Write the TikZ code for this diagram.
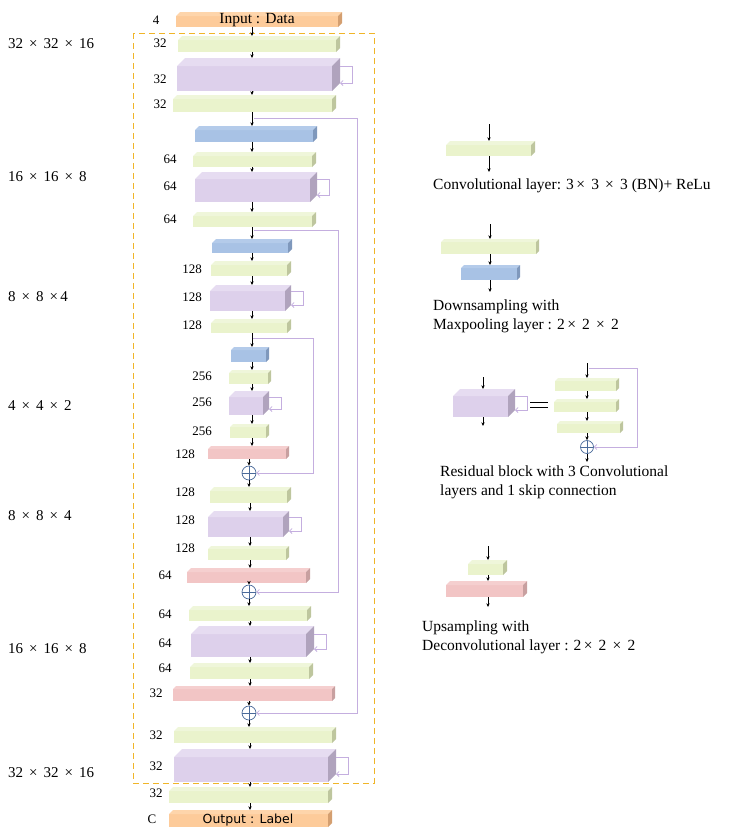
\documentclass[tikz,border=0pt]{standalone}
\usepackage{fontspec}
\setmainfont{Liberation Serif}
\newfontfamily\sansf{DejaVu Sans}
\usetikzlibrary{arrows.meta,calc}
\definecolor{grf}{HTML}{EAF3CC}\definecolor{grt}{HTML}{EFF6DA}\definecolor{grs}{HTML}{BEC69E}
\definecolor{puf}{HTML}{DDD0EB}\definecolor{put}{HTML}{E6DCF1}\definecolor{pus}{HTML}{B0A3BD}
\definecolor{blf}{HTML}{A8C2E5}\definecolor{blt}{HTML}{B4CBEA}\definecolor{bls}{HTML}{7F98BC}
\definecolor{pkf}{HTML}{F2C5C5}\definecolor{pkt}{HTML}{F5CFCF}\definecolor{pks}{HTML}{C8A0A0}
\definecolor{orf}{HTML}{FDCB9A}\definecolor{ort}{HTML}{FED5AB}\definecolor{ors}{HTML}{D49F70}
\definecolor{skipc}{HTML}{C4AEDF}
\definecolor{framec}{HTML}{F0B528}
\definecolor{addc}{HTML}{4A6A9A}
\newcommand\tx{\kern0.15em×\kern0.15em}
\newcommand\cub[7]{%
  \node[box, fill=#7f, minimum width={(#4-#2)*1pt}, minimum height={(#5-#3)*1pt}] (#1) at ({(#2+#4)/2},{(#3+#5)/2}) {};
  \fill[#7t] (#1.north west) -- ++(#6,-#6) -- ($(#1.north east)+(#6,-#6)$) -- (#1.north east) -- cycle;
  \fill[#7s] (#1.north east) -- ++(#6,-#6) -- ($(#1.south east)+(#6,-#6)$) -- (#1.south east) -- cycle;
  \coordinate (#1-t) at ($(#1.north)+(0,-#6)$);
  \coordinate (#1-a) at ($(#1.north east)+(#6,0)$);
  \coordinate (#1-b) at ($(#1.south east)+(#6,-#6)$);
}
\newcommand\resloop[1]{\draw[skip] (#1-a) -- ++(12,0) |- (#1-b);}
\tikzset{
  box/.style={inner sep=0pt, outer sep=0pt, draw=none, rectangle},
  arr/.style={-{Stealth[length=3.8pt,width=3.4pt]}, line width=0.6pt, black},
  skip/.style={-{Straight Barb[length=2.5pt,width=5pt]}, line width=0.8pt, skipc},
  adder/.style={circle, draw=addc, fill=white, minimum size=14pt, inner sep=0pt, line width=0.7pt,
    path picture={\draw[addc, line width=0.7pt] (path picture bounding box.north) -- (path picture bounding box.south)
      (path picture bounding box.west) -- (path picture bounding box.east);}},
  lab/.style={font=\fontsize{13}{15}\selectfont, inner sep=0pt},
  dimlab/.style={font=\fontsize{15}{17}\selectfont, inner sep=0pt, anchor=west},
  legtxt/.style={font=\fontsize{15.5}{19}\selectfont, inner sep=0pt, anchor=west, align=left},
  frame/.style={framec, line width=0.8pt, dash pattern=on 6pt off 4pt}
}
\begin{document}
\begin{tikzpicture}[x=1pt,y=-1pt]
\useasboundingbox (0,0) rectangle (752,836);
\draw[frame] (133,33) rectangle (374,783);
\coordinate (ax) at (252,0);
\coordinate (bx) at (250,0);
% main column
\cub{in}{176}{16}{338}{27}{4}{or}
\node[font=\fontsize{15.5}{17}\selectfont, inner sep=0pt] (intxt) at (257,20) {Input : Data};
\cub{g1}{178}{40}{336}{52}{4}{gr}
\cub{p1}{177}{66}{332}{91}{8}{pu}
\cub{g2}{173}{99}{332}{112}{4}{gr}
\cub{b1}{195}{130}{313}{142}{4}{bl}
\cub{g3}{193}{156}{312}{167}{4}{gr}
\cub{p2}{195}{179}{310}{202}{7}{pu}
\cub{g4}{193}{216}{312}{227}{4}{gr}
\cub{b2}{212}{243}{288}{253}{4}{bl}
\cub{g5}{211}{265}{287}{276}{4}{gr}
\cub{p3}{210}{291}{285}{311}{6}{pu}
\cub{g6}{211}{323}{287}{333}{4}{gr}
\cub{b3}{231}{350}{266}{362}{3}{bl}
\cub{g7}{229}{373}{268}{384}{3}{gr}
\cub{p4}{229}{397}{263}{415}{6}{pu}
\cub{g8}{230}{427}{266}{438}{3}{gr}
\cub{k1}{208}{449}{286}{459}{3}{pk}
\node[adder] (add1) at (249,473) {};
\cub{g9}{210}{491}{287}{503}{4}{gr}
\cub{p5}{208}{517}{283}{537}{6}{pu}
\cub{g10}{208}{549}{286}{560}{3}{gr}
\cub{k2}{187}{572}{306}{583}{4}{pk}
\node[adder] (add2) at (249,592) {};
\cub{g11}{189}{610}{307}{621}{4}{gr}
\cub{p6}{191}{634}{306}{657}{8}{pu}
\cub{g12}{190}{667}{309}{679}{4}{gr}
\cub{k3}{173}{689}{332}{701}{3}{pk}
\node[adder] (add3) at (249,713) {};
\cub{g13}{174}{731}{332}{743}{4}{gr}
\cub{p7}{174}{757}{328}{782}{8}{pu}
\cub{g14}{169}{791}{328}{803}{4}{gr}
\cub{out}{169}{814}{328}{827}{4}{or}
\node[font=\sansf\fontsize{12.5}{14}\selectfont, inner sep=0pt] (outtxt) at (248,820) {Output : Label};
% arrows
\foreach \a/\b in {in/g1,g1/p1,p1/g2,g2/b1,b1/g3,g3/p2,p2/g4,g4/b2,b2/g5,g5/p3,p3/g6,g6/b3,b3/g7,g7/p4,p4/g8,g8/k1}
  \draw[arr] (\a.south -| ax) -- (\b-t -| ax);
\draw[arr] (k1.south -| add1) -- (add1.north);
\draw[arr] (add1.south) -- (g9-t -| add1);
\foreach \a/\b in {g9/p5,p5/g10,g10/k2}
  \draw[arr] (\a.south -| bx) -- (\b-t -| bx);
\draw[arr] (k2.south -| add2) -- (add2.north);
\draw[arr] (add2.south) -- (g11-t -| add2);
\foreach \a/\b in {g11/p6,p6/g12,g12/k3}
  \draw[arr] (\a.south -| bx) -- (\b-t -| bx);
\draw[arr] (k3.south -| add3) -- (add3.north);
\draw[arr] (add3.south) -- (g13-t -| add3);
\foreach \a/\b in {g13/p7,p7/g14,g14/out}
  \draw[arr] (\a.south -| bx) -- (\b-t -| bx);
% loops
\foreach \p in {p1,p2,p3,p4,p5,p6,p7} \resloop{\p}
% long skips
\coordinate (s1) at (254,118); \coordinate (r1) at (357,118);
\coordinate (s2) at (254,230); \coordinate (r2) at (338,230);
\coordinate (s3) at (253,338); \coordinate (r3) at (313,338);
\draw[skip] (s1) -- (r1) |- (add3.east);
\draw[skip] (s2) -- (r2) |- (add2.east);
\draw[skip] (s3) -- (r3) |- (add1.east);
% channel labels
\node[lab] (c1) at (156,20) {4};
\node[lab] (c2) at (160,43) {32};
\node[lab] (c3) at (160,79) {32};
\node[lab] (c4) at (160,104) {32};
\node[lab] (c5) at (170,159) {64};
\node[lab] (c6) at (170,186) {64};
\node[lab] (c7) at (170,219) {64};
\node[lab] (c8) at (192,269) {128};
\node[lab] (c9) at (192,297) {128};
\node[lab] (c10) at (192,325) {128};
\node[lab] (c11) at (202,376) {256};
\node[lab] (c12) at (202,402) {256};
\node[lab] (c13) at (202,431) {256};
\node[lab] (c14) at (185,454) {128};
\node[lab] (c15) at (185,492) {128};
\node[lab] (c16) at (185,520) {128};
\node[lab] (c17) at (185,548) {128};
\node[lab] (c18) at (165,575) {64};
\node[lab] (c19) at (165,614) {64};
\node[lab] (c20) at (165,643) {64};
\node[lab] (c21) at (165,668) {64};
\node[lab] (c22) at (156,693) {32};
\node[lab] (c23) at (156,735) {32};
\node[lab] (c24) at (156,766) {32};
\node[lab] (c25) at (156,793) {32};
\node[lab] (c26) at (152,819) {C};
% dimension labels
\node[dimlab] (d1) at (8,44) {32 \tx{} 32 \tx{} 16};
\node[dimlab] (d2) at (8,177) {16 \tx{} 16 \tx{} 8};
\node[dimlab] (d3) at (8,297) {8 \tx{} 8 \tx{}4};
\node[dimlab] (d4) at (8,406) {4 \tx{} 4 \tx{} 2};
\node[dimlab] (d5) at (8,516) {8 \tx{} 8 \tx{} 4};
\node[dimlab] (d6) at (8,649) {16 \tx{} 16 \tx{} 8};
\node[dimlab] (d7) at (8,773) {32 \tx{} 32 \tx{} 16};
% legend 1
\coordinate (l1i) at (489,124); \coordinate (l1o) at (489,172);
\cub{lg1}{446}{145}{531}{156}{4}{gr}
\draw[arr] (l1i) -- (lg1-t -| l1i);
\draw[arr] (lg1.south -| l1i) -- (l1o);
\node[legtxt] (t1) at (433,186) {Convolutional layer: 3\tx{} 3 \tx{} 3 (BN)+ ReLu};
% legend 2
\coordinate (l2i) at (490,224); \coordinate (l2o) at (490,292);
\cub{lg2}{441}{242}{536}{254}{3}{gr}
\cub{lb2}{461}{268}{517}{280}{3}{bl}
\draw[arr] (l2i) -- (lg2-t -| l2i);
\draw[arr] (lg2.south -| l2i) -- (lb2-t -| l2i);
\draw[arr] (lb2.south -| l2i) -- (l2o);
\node[legtxt] (t2) at (433,316) {Downsampling with\\Maxpooling layer : 2\tx{} 2 \tx{} 2};
% legend 3
\coordinate (l3i) at (483,377); \coordinate (l3o) at (483,426);
\cub{lp3}{453}{396}{508}{417}{7}{pu}
\draw[arr] (l3i) -- (lp3-t -| l3i);
\draw[arr] (lp3.south -| l3i) -- (l3o);
\resloop{lp3}
\coordinate (e1) at (530,402); \coordinate (e2) at (548,402);
\coordinate (e3) at (530,407); \coordinate (e4) at (548,407);
\draw[line width=0.8pt] (e1) -- (e2) (e3) -- (e4);
\cub{lr1}{555}{381}{616}{391}{3}{gr}
\cub{lr2}{554}{402}{616}{412}{3}{gr}
\cub{lr3}{557}{424}{620}{433}{3}{gr}
\node[adder, minimum size=13pt] (ladd) at (587,447) {};
\coordinate (l4i) at (587,363); \coordinate (l4o) at (587,462);
\draw[arr] (l4i) -- (lr1-t -| l4i);
\draw[arr] (lr1.south -| l4i) -- (lr2-t -| l4i);
\draw[arr] (lr2.south -| l4i) -- (lr3-t -| l4i);
\draw[arr] (lr3.south -| l4i) -- (ladd.north);
\draw[arr] (ladd.south) -- (l4o);
\coordinate (ls) at (589,368); \coordinate (lr) at (637,368);
\draw[skip] (ls) -- (lr) |- (ladd.east);
\node[legtxt] (t3) at (440,482) {Residual block with 3 Convolutional\\layers and 1 skip connection};
% legend 4
\coordinate (l5i) at (488,546); \coordinate (l5o) at (488,607);
\cub{lg5}{468}{564}{503}{575}{4}{gr}
\cub{lk5}{446}{585}{523}{597}{4}{pk}
\draw[arr] (l5i) -- (lg5-t -| l5i);
\draw[arr] (lg5.south -| l5i) -- (lk5-t -| l5i);
\draw[arr] (lk5.south -| l5i) -- (l5o);
\node[legtxt] (t4) at (422,637) {Upsampling with\\Deconvolutional layer : 2\tx{} 2 \tx{} 2};
\end{tikzpicture}
\end{document}
